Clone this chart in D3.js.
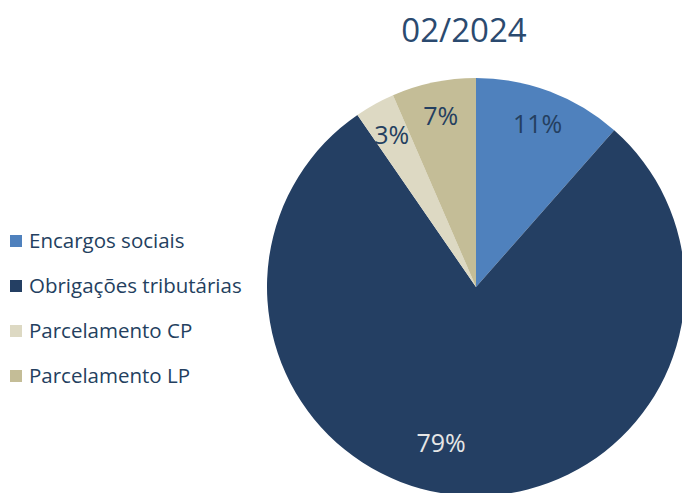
<!DOCTYPE html>
<html>
<head>
<meta charset="utf-8">
<script src="https://cdn.jsdelivr.net/npm/d3@7"></script>
<style>
  body { margin: 0; background: #fff; }
  svg text { font-family: "Open Sans", "Noto Sans", sans-serif; }
</style>
</head>
<body>
<svg id="chart" width="682" height="493"></svg>
<script>
// chart data
var title = "02/2024";
var categories = ["Encargos sociais", "Obrigações tributárias", "Parcelamento CP", "Parcelamento LP"];
var values = [11.5, 78.9, 3.1, 6.5];
var labels = ["11%", "79%", "3%", "7%"];
var colors = ["#4f81bd", "#243f63", "#ddd9c3", "#c4bd97"];
var labelColors = ["#243f60", "#e6e6e6", "#243f60", "#243f60"];

var svg = d3.select("#chart");
var cx = 476, cy = 287, radius = 209;

// title
svg.append("text")
	.attr("x", 464)
	.attr("y", 42)
	.attr("text-anchor", "middle")
	.attr("font-size", 33)
	.attr("fill", "#2b4a6f")
	.text(title);

var pie = d3.pie().sort(null).value(function(d){ return d; });
var arcs = pie(values);
var arc = d3.arc().innerRadius(0).outerRadius(radius);

// label position: small slices out near the rim, the big one a bit inward
// and nudged the way Excel's best fit does it
function labelPos(d) {
	var big = (d.endAngle - d.startAngle) > Math.PI;
	var r = big ? 160 : 174;
	var a = (d.startAngle + d.endAngle) / 2 + (big ? 0.16 : 0);
	return [Math.sin(a) * r, -Math.cos(a) * r];
}

var g = svg.append("g").attr("transform", "translate(" + cx + "," + cy + ")");

g.selectAll(".slice")
	.data(arcs)
	.enter()
	.append("path")
	.attr("class", "slice")
	.attr("d", arc)
	.attr("fill", function(d, i){ return colors[i]; });

g.selectAll(".lbl")
	.data(arcs)
	.enter()
	.append("text")
	.attr("class", "lbl")
	.attr("transform", function(d){ return "translate(" + labelPos(d) + ")"; })
	.attr("text-anchor", "middle")
	.attr("dy", "0.35em")
	.attr("font-size", 25)
	.attr("fill", function(d, i){ return labelColors[i]; })
	.text(function(d, i){ return labels[i]; });

// legend
var legend = svg.append("g").attr("transform", "translate(10,241)");
var item = legend.selectAll(".item")
	.data(categories)
	.enter()
	.append("g")
	.attr("class", "item")
	.attr("transform", function(d, i){ return "translate(0," + (i * 45) + ")"; });

item.append("rect")
	.attr("x", 0)
	.attr("y", -6)
	.attr("width", 12)
	.attr("height", 12)
	.attr("fill", function(d, i){ return colors[i]; });

item.append("text")
	.attr("x", 19)
	.attr("dy", "0.35em")
	.attr("font-size", 20.5)
	.attr("fill", "#243f60")
	.text(function(d){ return d; });
</script>
</body>
</html>
